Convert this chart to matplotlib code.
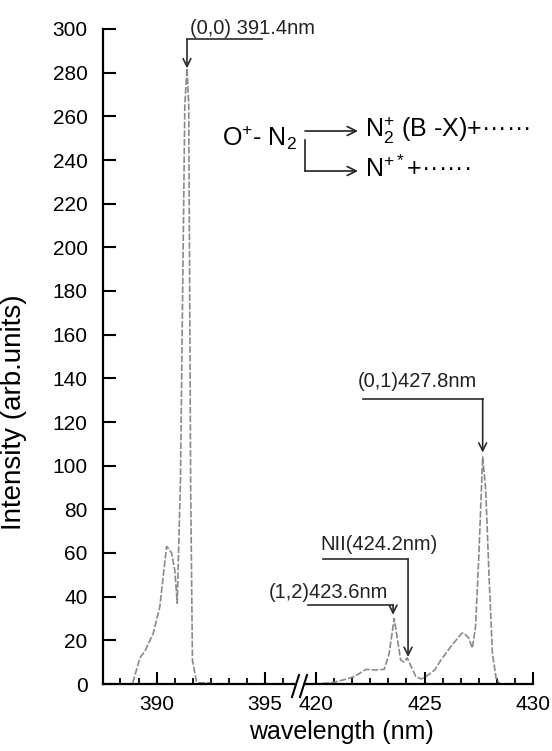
import matplotlib
matplotlib.use("Agg")
import matplotlib.pyplot as plt
from matplotlib.ticker import MultipleLocator, FixedLocator
from matplotlib.lines import Line2D

plt.rcParams["font.family"] = ["Liberation Sans", "DejaVu Sans"]
plt.rcParams["mathtext.fontset"] = "custom"
plt.rcParams["mathtext.rm"] = "Liberation Sans"
plt.rcParams["mathtext.it"] = "Liberation Sans:italic"
plt.rcParams["mathtext.bf"] = "Liberation Sans:bold"

# spectrum
wl_left = [388.9, 389.23, 389.46, 389.84, 390.15, 390.3, 390.46, 390.55, 390.69,
           390.84, 390.95, 391.1, 391.3, 391.4, 391.48, 391.57, 391.65, 391.84,
           392.0, 392.5]
int_left = [0.5, 12, 15, 23, 35.5, 49, 63, 62, 60,
            52, 37, 94, 265, 282, 265, 89, 11, 1,
            0.5, 0.5]

wl_right = [420.3, 420.7, 421.3, 421.76, 422.3, 422.68, 423.14, 423.37, 423.6,
            423.76, 423.9, 424.06, 424.2, 424.35, 424.6, 424.84, 425.07, 425.46,
            425.76, 426.2, 426.7, 426.8, 427.04, 427.2, 427.35, 427.5, 427.68,
            427.82, 427.98, 428.13, 428.3, 428.45]
int_right = [0.3, 0.5, 2, 3.4, 6.7, 6.4, 6.7, 14, 30,
             20, 11, 10, 12, 8.7, 3.4, 2.3, 3.4, 6.4,
             11, 17, 23, 23.5, 21, 16.4, 26, 58, 104,
             89, 48, 14, 2.6, 0.3]

# peak labels
ann_labels = ["(0,0) 391.4nm", "(0,1)427.8nm", "NII(424.2nm)", "(1,2)423.6nm"]
ann_panel = ["left", "right", "right", "right"]
ann_peak_x = [391.4, 427.68, 424.24, 423.55]
ann_tip_y = [282, 106, 12.4, 31.7]
ann_bar_y = [295.4, 130.7, 57.3, 36.2]
ann_bar_end = [394.85, 422.17, 420.32, 419.63]
ann_text_x = [391.53, 421.9, 420.2, 417.8]
ann_text_y = [300, 138.5, 63.8, 42]

W, H = 552, 751
fig = plt.figure(figsize=(W / 100, H / 100), dpi=100)


def fx(px):
    return px / W


def fy(py):
    return 1 - py / H


bottom = fy(684)
height = fy(29) - fy(684)
ax_l = fig.add_axes([fx(103), bottom, fx(294) - fx(103), height])
ax_r = fig.add_axes([fx(305), bottom, fx(533) - fx(305), height])

line_kw = dict(color="#8a8a8a", lw=1.2, linestyle=(0, (4, 1.2)))
ax_l.plot(wl_left, int_left, **line_kw)
ax_r.plot(wl_right, int_right, **line_kw)

ax_l.set_xlim(387.53, 396.33)
ax_r.set_xlim(419.49, 430)
for ax in (ax_l, ax_r):
    ax.set_ylim(0, 300)
    ax.spines["top"].set_visible(False)
    ax.spines["right"].set_visible(False)
    ax.spines["bottom"].set_linewidth(1.6)
    ax.spines["left"].set_linewidth(1.6)
    ax.tick_params(axis="x", which="major", direction="in", length=9, width=1.5,
                   labelsize=15, pad=8)
    ax.tick_params(axis="x", which="minor", direction="in", length=4.5, width=1.3)
    ax.patch.set_visible(False)

ax_l.xaxis.set_major_locator(FixedLocator([390, 395]))
ax_r.xaxis.set_major_locator(FixedLocator([420, 425, 430]))
ax_r.xaxis.set_minor_locator(FixedLocator([420 + i * 5 / 6 for i in range(-1, 13)]))
ax_l.xaxis.set_minor_locator(FixedLocator([390 + i * 5 / 6 for i in range(-3, 8)]))

ax_l.yaxis.set_major_locator(MultipleLocator(20))
ax_l.tick_params(axis="y", direction="in", length=9, width=1.5, labelsize=15, pad=11)
ax_r.spines["left"].set_visible(False)
ax_r.tick_params(axis="y", left=False, labelleft=False)

ax_l.set_ylabel("Intensity (arb.units)", fontsize=20)
ax_l.yaxis.set_label_coords((27 - 103) / 191, (684 - 412) / 655)
fig.text(fx(341), fy(732), "wavelength (nm)", fontsize=18, ha="center", va="center")

# axis break marks
for x0 in (292, 300):
    fig.add_artist(Line2D([fx(x0), fx(x0 + 7)], [fy(697), fy(675)],
                          transform=fig.transFigure, color="black", lw=1.5))

# peak annotations
ann_color = "#2a2a2a"
for i, label in enumerate(ann_labels):
    ax = ax_l if ann_panel[i] == "left" else ax_r
    ax.plot([ann_bar_end[i], ann_peak_x[i]], [ann_bar_y[i], ann_bar_y[i]],
            color=ann_color, lw=1.2, clip_on=False)
    ax.annotate("", xy=(ann_peak_x[i], ann_tip_y[i]),
                xytext=(ann_peak_x[i], ann_bar_y[i]),
                arrowprops=dict(arrowstyle="->", color=ann_color, lw=1.2,
                                shrinkA=0, shrinkB=0, mutation_scale=14),
                annotation_clip=False)
    ax.text(ann_text_x[i], ann_text_y[i], label, fontsize=14.5,
            ha="left", va="center", color="#222222")

# reaction scheme
rx_size = 18
fig.text(fx(222), fy(146), r"O$^{+}$- N$_{2}$", fontsize=rx_size,
         ha="left", va="baseline")
fig.text(fx(365), fy(137), r"N$_{2}^{+}$ (B -X)+······", fontsize=rx_size,
         ha="left", va="baseline")
fig.text(fx(365), fy(177), r"N$^{+*}$+······", fontsize=rx_size,
         ha="left", va="baseline")
arrow_kw = dict(arrowstyle="->", color="#222222", lw=1.2, shrinkA=0, shrinkB=0,
                mutation_scale=16)
fig.add_artist(matplotlib.patches.FancyArrowPatch(
    (fx(305), fy(131)), (fx(358), fy(131)), transform=fig.transFigure, **arrow_kw))
fig.add_artist(Line2D([fx(305), fx(305)], [fy(140), fy(171)],
                      transform=fig.transFigure, color="#222222", lw=1.2))
fig.add_artist(matplotlib.patches.FancyArrowPatch(
    (fx(305), fy(171)), (fx(358), fy(171)), transform=fig.transFigure, **arrow_kw))

fig.savefig("out.png", dpi=100)
